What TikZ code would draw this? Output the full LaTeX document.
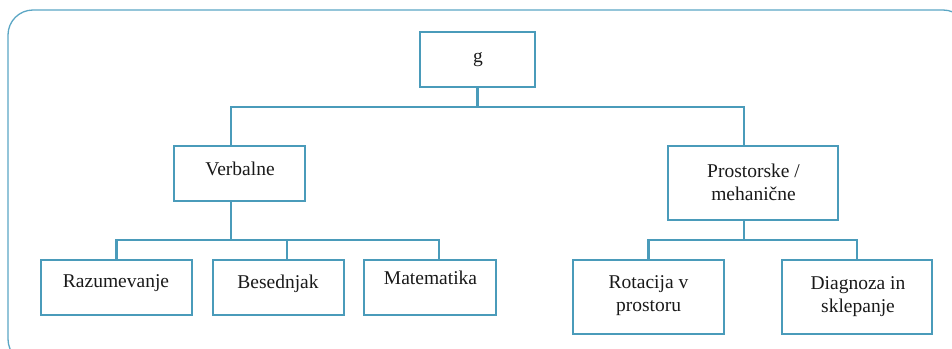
\documentclass[tikz,border=0pt]{standalone}
\usepackage{fontspec}
\setmainfont{Liberation Serif}
\definecolor{teal}{HTML}{4A9BBA}
\definecolor{frameblue}{HTML}{5BA6C4}
\begin{document}
\begin{tikzpicture}[x=1pt,y=-1pt,
  box/.style={draw=teal, line width=2.7pt, rectangle, inner sep=0pt},
  lbl/.style={anchor=base, align=center, inner sep=0pt, text=black!90,
    font=\fontsize{19.5}{22.5}\selectfont},
  link/.style={draw=teal, line width=2.2pt}]
\useasboundingbox (0,0) rectangle (952,348);
\begin{scope}
  \clip (0,0) rectangle (952,348);
  % outer rounded frame, running past the right and bottom edges
  \draw[frameblue, line width=1.3pt, rounded corners=25pt] (8,10) rectangle (968,364);
\end{scope}

% boxes
\node[box, minimum width=115, minimum height=55] (g)   at (477.5,59.5) {};
\node[box, minimum width=131, minimum height=55] (verb) at (239.5,173.5) {};
\node[box, minimum width=170, minimum height=74] (pros) at (753,183) {};
\node[box, minimum width=151, minimum height=55] (raz) at (116.5,287.5) {};
\node[box, minimum width=131, minimum height=55] (bes) at (278.5,287.5) {};
\node[box, minimum width=132, minimum height=55] (mat) at (430,287.5) {};
\node[box, minimum width=151, minimum height=74] (rot) at (648.5,297) {};
\node[box, minimum width=150, minimum height=74] (dia) at (857,297) {};

% labels (base anchor sits on the last line)
\node[lbl] (tg)   at (478,62) {g};
\node[lbl] (tverb) at (240,175) {Verbalne};
\node[lbl] (tpros) at (753.5,200) {Prostorske /\\mehanične};
\node[lbl] (traz) at (116,287) {Razumevanje};
\node[lbl] (tbes) at (278,288) {Besednjak};
\node[lbl] (tmat) at (430.5,284.5) {Matematika};
\node[lbl] (trot) at (648.5,311) {Rotacija v\\prostoru};
\node[lbl] (tdia) at (858,312) {Diagnoza in\\sklepanje};

% junction points of the tree
\coordinate (bus0) at (477,107);
\coordinate (bus1) at (231,240);
\coordinate (bus2) at (744,240);

% connectors
\draw[link] (g.south) |- ([xshift=-8.5pt]verb.north |- bus0) -- ([xshift=-8.5pt]verb.north);
\draw[link] (bus0) -| ([xshift=-9pt]pros.north);
\draw[link] ([xshift=-8.5pt]verb.south) -- (bus1);
\draw[link] (bus1) -| (raz.north);
\draw[link] (bus1) -| ([xshift=8.5pt]bes.north);
\draw[link] (bus1) -| ([xshift=9pt]mat.north);
\draw[link] ([xshift=-9pt]pros.south) -- (bus2);
\draw[link] (bus2) -| (rot.north);
\draw[link] (bus2) -| (dia.north);
\end{tikzpicture}
\end{document}
